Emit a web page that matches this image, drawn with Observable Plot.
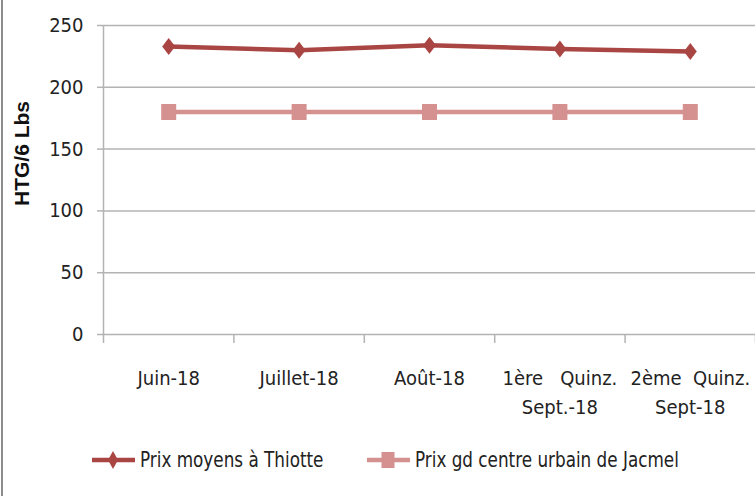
<!DOCTYPE html>
<html>
<head>
<meta charset="utf-8">
<script src="https://cdn.jsdelivr.net/npm/d3@7"></script>
<script src="https://cdn.jsdelivr.net/npm/@observablehq/plot@0.6"></script>
<style>
  html, body { margin: 0; padding: 0; background: #fff; }
  body { width: 755px; height: 496px; position: relative; overflow: hidden; }
  #frameLine { position: absolute; left: 1px; top: 0; width: 2px; height: 496px; background: #8c8c8c; }
  #chart { position: absolute; left: 0; top: 0; }
  #chart svg { overflow: visible; }
  .legend-item { position: absolute; top: 445px; height: 30px; display: flex; align-items: center;
    font-family: 'DejaVu Sans Condensed', 'DejaVu Sans', sans-serif; font-stretch: condensed; font-size: 21px; color: #222; }
  .legend-item svg { margin-right: 4px; }
  .legend-item span { display: inline-block; transform: scaleX(0.89); transform-origin: left center; white-space: nowrap; }
</style>
</head>
<body>
<div id="chart"></div>
<div id="frameLine"></div>
<script>
// ---- data ----
const categories = ["Juin-18", "Juillet-18", "Août-18",
  "1ère\u00a0\u00a0\u00a0Quinz.\nSept.-18",
  "2ème\u00a0\u00a0Quinz.\nSept-18"];
const thiotte = [233, 230, 234, 231, 229];
const jacmel = [180, 180, 180, 180, 180];
const seriesNames = ["Prix moyens à Thiotte", "Prix gd centre urbain de Jacmel"];
const yTicks = [0, 50, 100, 150, 200, 250];
const yLabel = "HTG/6 Lbs";

// ---- styles ----
const colThiotte = "#A94543";
const colJacmel = "#D4918F";
const gridCol = "#b3b3b3";
const diamondSym = { draw(ctx) { ctx.moveTo(0, -8.5); ctx.lineTo(6.5, 0); ctx.lineTo(0, 8.5); ctx.lineTo(-6.5, 0); ctx.closePath(); } };
const squareSym = { draw(ctx) { ctx.rect(-7.5, -8, 15, 16); } };

const idx = categories.map((_, i) => i);
const boundaries = [-0.5, ...idx.map(i => i + 0.5)];
const dataT = idx.map(i => ({ i, v: thiotte[i] }));
const dataJ = idx.map(i => ({ i, v: jacmel[i] }));

const plot = Plot.plot({
  width: 755,
  height: 430,
  marginLeft: 103,
  marginRight: 0,
  marginTop: 25,
  marginBottom: 96,
  style: { fontFamily: "'DejaVu Sans Condensed', 'DejaVu Sans', sans-serif", fontStretch: "condensed", fontSize: "20px", color: "#222", background: "transparent", overflow: "visible" },
  x: { type: "linear", domain: [-0.5, categories.length - 0.5] },
  y: { domain: [0, 250] },
  marks: [
    Plot.gridY(yTicks, { stroke: gridCol, strokeOpacity: 1, strokeWidth: 1.5 }),
    Plot.axisY(yTicks, { tickSize: 6, tickPadding: 14, stroke: gridCol, strokeWidth: 1.5, label: null, fontSize: 20 }),
    Plot.ruleX([-0.5], { stroke: gridCol, strokeWidth: 1.5 }),
    Plot.axisX(boundaries, { tickSize: 9, tickFormat: () => "", stroke: gridCol, strokeWidth: 1.5, label: null }),
    Plot.axisX(idx, { tickSize: 0, tickPadding: 30, tickFormat: i => categories[i], label: null, lineHeight: 1.45, fontSize: 20 }),
    Plot.text([yLabel], { frameAnchor: "left", dx: -81, dy: -26.5, rotate: -90, fontWeight: "bold",
      fontFamily: "'Liberation Sans', Arial, sans-serif", fontSize: 21, fill: "#111", textAnchor: "middle", lineAnchor: "middle" }),
    Plot.line(dataJ, { x: "i", y: "v", stroke: colJacmel, strokeWidth: 4.5 }),
    Plot.dot(dataJ, { x: "i", y: "v", symbol: squareSym, fill: colJacmel, stroke: "none" }),
    Plot.line(dataT, { x: "i", y: "v", stroke: colThiotte, strokeWidth: 4.5 }),
    Plot.dot(dataT, { x: "i", y: "v", symbol: diamondSym, fill: colThiotte, stroke: "none" })
  ]
});
document.getElementById("chart").appendChild(plot);

// ---- legend ----
function legendItem(left, name, color, kind) {
  const div = document.createElement("div");
  div.className = "legend-item";
  div.style.left = left + "px";
  const marker = kind === "diamond"
    ? `<path d="M21,6 L26,15 L21,24 L16,15 Z" fill="${color}"/>`
    : `<rect x="14.5" y="7" width="13" height="16" fill="${color}"/>`;
  div.innerHTML = `<svg width="44" height="30"><line x1="0" y1="15" x2="43" y2="15" stroke="${color}" stroke-width="4.5"/>${marker}</svg><span>${name}</span>`;
  document.body.appendChild(div);
}
legendItem(92, seriesNames[0], colThiotte, "diamond");
legendItem(367, seriesNames[1], colJacmel, "square");
</script>
</body>
</html>
